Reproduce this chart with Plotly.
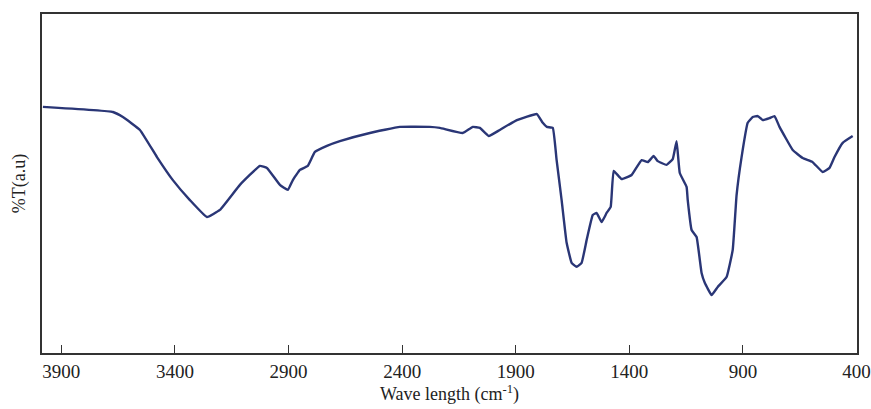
import plotly.graph_objects as go

wavenumber = [3981, 3673, 3629, 3554, 3479, 3409, 3334, 3259, 3202, 3114, 3026, 2995,
              2938, 2903, 2881, 2850, 2815, 2784, 2731, 2674, 2542, 2410, 2278, 2234,
              2133, 2089, 2058, 2019, 1970, 1895, 1807, 1781, 1763, 1737, 1720, 1698,
              1676, 1654, 1632, 1610, 1588, 1561, 1544, 1522, 1500, 1482, 1469, 1434,
              1390, 1346, 1319, 1293, 1275, 1236, 1209, 1192, 1178, 1148, 1143, 1126,
              1104, 1082, 1068, 1038, 1011, 972, 945, 928, 906, 879, 857, 835, 813,
              783, 761, 739, 681, 637, 593, 549, 519, 497, 461, 417]
transmittance = [72.6, 71.1, 69.6, 65.8, 57.8, 51.0, 45.1, 40.1, 42.2, 49.6, 55.2, 54.6,
                 49.6, 48.1, 51.0, 54.0, 55.2, 59.3, 61.1, 62.5, 64.9, 66.7, 66.7, 66.4,
                 64.9, 66.7, 66.4, 64.0, 65.8, 68.7, 70.5, 67.9, 66.7, 66.4, 56.9, 45.1,
                 32.5, 26.6, 25.4, 26.6, 33.3, 40.7, 41.3, 38.6, 41.3, 43.1, 53.7, 51.3,
                 52.5, 56.9, 56.3, 58.1, 56.6, 55.5, 57.2, 62.5, 53.1, 49.0, 45.1, 36.3,
                 34.2, 23.6, 20.7, 17.1, 19.5, 22.4, 30.4, 46.6, 57.8, 67.9, 69.6, 69.9, 68.7,
                 69.3, 69.9, 66.7, 59.9, 57.5, 56.3, 53.4, 54.6, 57.8, 62.0, 64.0]
x_ticks = [3900, 3400, 2900, 2400, 1900, 1400, 900, 400]

fig = go.Figure()
fig.add_trace(go.Scatter(x=wavenumber, y=transmittance, mode="lines",
                         line=dict(color="#2a3676", width=2.4, shape="spline", smoothing=0.3),
                         showlegend=False, hoverinfo="skip"))

font_family = "Liberation Serif, DejaVu Serif, serif"
fig.update_layout(
    width=871, height=409,
    margin=dict(l=42, r=14, t=14, b=56, autoexpand=False),
    paper_bgcolor="white", plot_bgcolor="white",
    font=dict(family=font_family, size=19, color="#222"),
)
fig.update_xaxes(
    range=[3985, 398], tickvals=x_ticks, ticktext=[str(v) for v in x_ticks],
    ticks="inside", ticklen=8, tickwidth=1.2, tickcolor="#333",
    showline=True, linecolor="#333", linewidth=2, mirror=True,
    showgrid=False, zeroline=False, automargin=False,
    ticklabeloverflow="allow",
    title=dict(text="Wave length (cm<sup>-1</sup>)", standoff=2, font=dict(size=18)),
    tickfont=dict(size=19),
)
fig.update_yaxes(
    range=[0, 100], showticklabels=False, ticks="",
    showline=True, linecolor="#333", linewidth=2, mirror=True,
    showgrid=False, zeroline=False, automargin=False,
    title=dict(text="%T(a.u)", standoff=10, font=dict(size=18)),
)
fig.write_html("out.html")
